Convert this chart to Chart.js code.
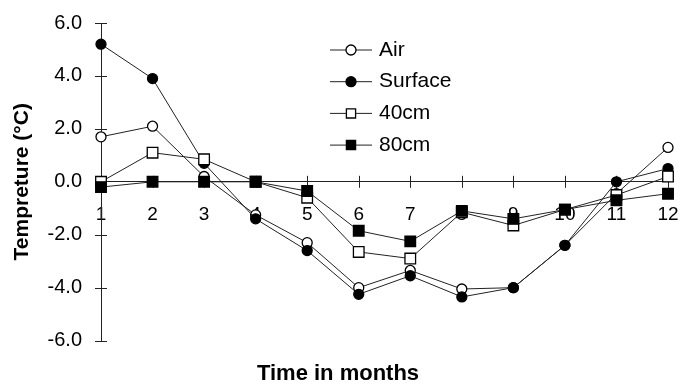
<!DOCTYPE html>
<html>
<head>
<meta charset="utf-8">
<script src="https://cdn.jsdelivr.net/npm/chart.js@4.4.1/dist/chart.umd.min.js"></script>
<style>
  html, body { margin: 0; padding: 0; background: #fff; }
</style>
</head>
<body>
<canvas id="chart" width="681" height="384"></canvas>
<script>
const months = ["1", "2", "3", "4", "5", "6", "7", "8", "9", "10", "11", "12"];
const airTemp = [1.7, 2.1, 0.2, -1.25, -2.3, -4.0, -3.35, -4.05, -4.0, -2.4, -0.45, 1.3];
const surfaceTemp = [5.2, 3.9, 0.7, -1.4, -2.6, -4.25, -3.55, -4.35, -4.0, -2.4, 0.0, 0.5];
const temp40cm = [0.0, 1.1, 0.85, 0.0, -0.6, -2.65, -2.9, -1.15, -1.65, -1.05, -0.5, 0.2];
const temp80cm = [-0.2, 0.0, 0.0, 0.0, -0.35, -1.85, -2.25, -1.1, -1.4, -1.05, -0.7, -0.45];
const yTicks = [6, 4, 2, 0, -2, -4, -6];

const FONT = "'Liberation Sans', Arial, sans-serif";

function series(label, data, style, filled, order) {
  const r = style === "circle" ? 5 : 7.5;
  return {
    label,
    data,
    order,
    borderColor: "#222",
    borderWidth: 1,
    pointStyle: style,
    pointRadius: r,
    pointHoverRadius: r,
    pointBackgroundColor: filled ? "#000" : "#fff",
    pointBorderColor: "#000",
    pointBorderWidth: 1.3,
    tension: 0
  };
}

// tick marks that cross the axis lines, like the original plot
const crossTicks = {
  id: "crossTicks",
  beforeDatasetsDraw(chart) {
    const {ctx, scales: {x, y}} = chart;
    const ax = chart.chartArea.left;
    const ay = y.getPixelForValue(0);
    ctx.save();
    ctx.strokeStyle = "#222";
    ctx.lineWidth = 1;
    ctx.beginPath();
    y.ticks.forEach((t, i) => {
      const py = Math.round(y.getPixelForTick(i)) + 0.5;
      ctx.moveTo(ax - 6, py);
      ctx.lineTo(ax + 6, py);
    });
    x.ticks.forEach((t, i) => {
      const px = Math.round(x.getPixelForTick(i)) + 0.5;
      ctx.moveTo(px, ay - 6);
      ctx.lineTo(px, ay + 6);
    });
    ctx.stroke();
    ctx.restore();
  }
};

// legend sitting inside the plot, line through the marker
const innerLegend = {
  id: "innerLegend",
  afterDraw(chart) {
    const {ctx, chartArea} = chart;
    const x0 = chartArea.left + 229;
    const y0 = chartArea.top + 27;
    chart.data.datasets.forEach((ds, i) => {
      const yy = y0 + i * 31.7;
      ctx.save();
      ctx.strokeStyle = ds.borderColor;
      ctx.lineWidth = 1;
      ctx.beginPath();
      ctx.moveTo(x0, yy);
      ctx.lineTo(x0 + 42, yy);
      ctx.stroke();
      ctx.fillStyle = ds.pointBackgroundColor;
      ctx.strokeStyle = ds.pointBorderColor;
      ctx.lineWidth = ds.pointBorderWidth;
      Chart.helpers.drawPoint(ctx, {
        pointStyle: ds.pointStyle,
        radius: ds.pointStyle === "circle" ? 5 : 6.5,
        borderWidth: ds.pointBorderWidth,
        rotation: 0
      }, x0 + 21, yy);
      ctx.fillStyle = "#000";
      ctx.font = "21px " + FONT;
      ctx.textBaseline = "middle";
      ctx.fillText(ds.label, x0 + 49, yy);
      ctx.restore();
    });
  }
};

const ctx = document.getElementById("chart").getContext("2d");
new Chart(ctx, {
  type: "line",
  data: {
    labels: months,
    datasets: [
      series("Air", airTemp, "circle", false, 4),
      series("Surface", surfaceTemp, "circle", true, 3),
      series("40cm", temp40cm, "rect", false, 2),
      series("80cm", temp80cm, "rect", true, 1)
    ]
  },
  options: {
    responsive: false,
    animation: false,
    layout: {
      padding: {left: 8, right: 13, top: 23, bottom: -3}
    },
    scales: {
      x: {
        type: "category",
        position: {y: 0},
        offset: false,
        // invisible tick marks only push the labels down
        grid: {drawOnChartArea: false, drawTicks: true, tickLength: 22, tickColor: "rgba(0,0,0,0)"},
        border: {color: "#222", width: 1},
        ticks: {
          color: "#000",
          padding: 0,
          maxRotation: 0,
          autoSkip: false,
          font: {family: FONT, size: 19}
        }
      },
      y: {
        min: -6,
        max: 6,
        afterBuildTicks(scale) {
          scale.ticks = yTicks.map(v => ({value: v}));
        },
        afterFit(scale) {
          scale.width = 93;
        },
        grid: {drawOnChartArea: false, drawTicks: true, tickLength: 19, tickColor: "rgba(0,0,0,0)"},
        border: {color: "#222", width: 1},
        ticks: {
          color: "#000",
          padding: 0,
          font: {family: FONT, size: 20},
          callback: v => v.toFixed(1)
        },
        title: {
          display: true,
          text: "Tempreture (°C)",
          color: "#000",
          font: {family: FONT, size: 21, weight: "bold"},
          padding: {top: 2, bottom: 0}
        }
      }
    },
    plugins: {
      legend: {display: false},
      tooltip: {enabled: false},
      title: {
        display: true,
        position: "bottom",
        text: "Time in months",
        color: "#000",
        font: {family: FONT, size: 22, weight: "bold"},
        padding: {top: 20, bottom: 0}
      }
    }
  },
  plugins: [crossTicks, innerLegend]
});
</script>
</body>
</html>
